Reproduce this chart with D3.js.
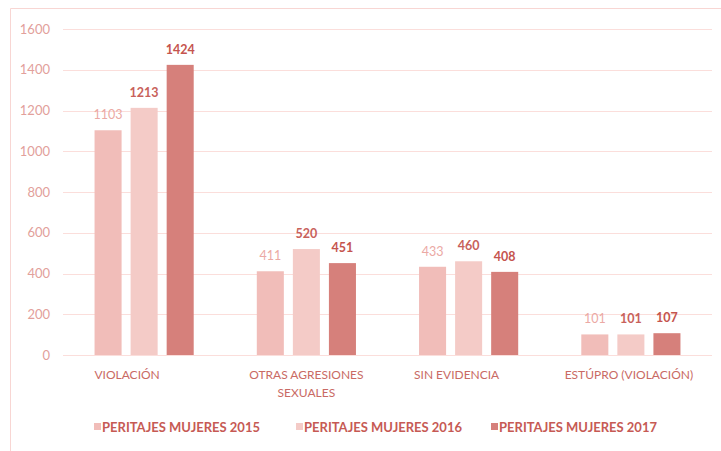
<!DOCTYPE html>
<html>
<head>
<meta charset="utf-8">
<script src="https://cdn.jsdelivr.net/npm/d3@7"></script>
<style>
  body { margin: 0; background: #fff; }
  text { font-family: Lato, "Liberation Sans", sans-serif; }
</style>
</head>
<body>
<svg id="chart" width="721" height="451"></svg>
<script>
// chart data
const categories = [["VIOLACIÓN"], ["OTRAS AGRESIONES", "SEXUALES"], ["SIN EVIDENCIA"], ["ESTÚPRO (VIOLACIÓN)"]];
const seriesNames = ["PERITAJES MUJERES 2015", "PERITAJES MUJERES 2016", "PERITAJES MUJERES 2017"];
const values2015 = [1103, 411, 433, 101];
const values2016 = [1213, 520, 460, 101];
const values2017 = [1424, 451, 408, 107];
const yTicks = [0, 200, 400, 600, 800, 1000, 1200, 1400, 1600];

const series = [values2015, values2016, values2017];
const barColors = ["#f1bdb9", "#f4cbc7", "#d6807b"];
const labelColors = ["#eba9a4", "#c8615b", "#c5544e"];
const labelWeights = ["normal", "bold", "bold"];
// category labels sit a bit off the group centre in the original
const labelShift = [-17, 0, -12, -2];

const svg = d3.select("#chart");

// outer frame (only top and left edges visible)
svg.append("path")
  .attr("d", "M10.5,451 V8.5 H721")
  .attr("fill", "none")
  .attr("stroke", "#f8d6d3")
  .attr("stroke-width", 1);

const plotLeft = 63, plotRight = 712, plotTop = 29, plotBottom = 355;

let y = d3.scaleLinear().domain([0, 1600]).range([plotBottom, plotTop]);

let x0 = d3.scaleBand()
  .domain(d3.range(categories.length))
  .range([plotLeft, plotRight])
  .paddingInner(1 / 3)
  .paddingOuter(1 / 6);

let x1 = d3.scaleBand()
  .domain(d3.range(series.length))
  .range([0, x0.bandwidth()])
  .paddingInner(0.25)
  .paddingOuter(0.125);

// gridlines
svg.append("g")
  .selectAll("line")
  .data(yTicks)
  .enter().append("line")
  .attr("x1", plotLeft).attr("x2", plotRight)
  .attr("y1", d => Math.round(y(d)) + 0.5)
  .attr("y2", d => Math.round(y(d)) + 0.5)
  .attr("stroke", "#fbdedb");

// y axis labels
let yAxis = svg.append("g")
  .attr("transform", "translate(50,0)")
  .call(d3.axisLeft(y).tickValues(yTicks).tickFormat(d3.format("d")).tickSize(0).tickPadding(0));
yAxis.select(".domain").remove();
yAxis.selectAll("text")
  .attr("fill", "#e2a09b")
  .style("font-size", "13px")
  .style("font-family", "Lato, sans-serif");

// bars
let groups = svg.append("g")
  .selectAll("g")
  .data(categories)
  .enter().append("g")
  .attr("transform", (d, i) => "translate(" + x0(i) + ",0)");

groups.each(function(cat, ci) {
  let g = d3.select(this);
  series.forEach(function(vals, si) {
    g.append("rect")
      .attr("x", x1(si))
      .attr("y", y(vals[ci]))
      .attr("width", x1.bandwidth())
      .attr("height", y(0) - y(vals[ci]))
      .attr("fill", barColors[si]);
    g.append("text")
      .attr("x", x1(si) + x1.bandwidth() / 2)
      .attr("y", y(vals[ci]) - 11)
      .attr("text-anchor", "middle")
      .attr("fill", labelColors[si])
      .style("font-size", "12.5px")
      .style("font-weight", labelWeights[si])
      .text(vals[ci]);
  });
  // category label, possibly on two lines
  let t = g.append("text")
    .attr("text-anchor", "middle")
    .attr("fill", "#c96a64")
    .style("font-size", "12px");
  cat.forEach(function(line, li) {
    t.append("tspan")
      .attr("x", x0.bandwidth() / 2 + labelShift[ci])
      .attr("y", 379 + li * 18)
      .text(line);
  });
});

// legend
const legendX = [94, 296, 491];
let legend = svg.append("g")
  .selectAll("g")
  .data(seriesNames)
  .enter().append("g")
  .attr("transform", (d, i) => "translate(" + legendX[i] + ",427)");

legend.append("rect")
  .attr("x", 0).attr("y", -4)
  .attr("width", 7).attr("height", 7)
  .attr("fill", (d, i) => barColors[i]);

legend.append("text")
  .attr("x", 8)
  .attr("y", 5)
  .attr("fill", "#c65a54")
  .style("font-size", "13px")
  .style("font-weight", "bold")
  .text(d => d);
</script>
</body>
</html>
